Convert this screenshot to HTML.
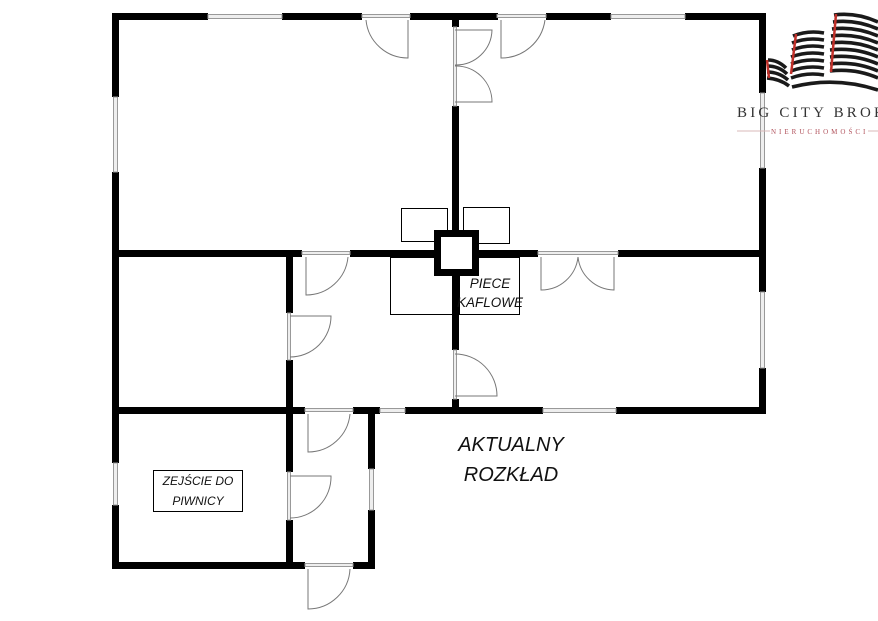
<!DOCTYPE html>
<html><head><meta charset="utf-8"><style>
html,body{margin:0;padding:0;background:#fff;}
svg{display:block;}
</style></head><body>
<svg width="878" height="621" viewBox="0 0 878 621" xmlns="http://www.w3.org/2000/svg">
<g fill="#000">
<rect x="112" y="13" width="96" height="7"/>
<rect x="282" y="13" width="80" height="7"/>
<rect x="410" y="13" width="88" height="7"/>
<rect x="546" y="13" width="65" height="7"/>
<rect x="685" y="13" width="81" height="7"/>
<rect x="759" y="13" width="7" height="80"/>
<rect x="759" y="168" width="7" height="124"/>
<rect x="759" y="368" width="7" height="45"/>
<rect x="112" y="13" width="7" height="84"/>
<rect x="112" y="172" width="7" height="291"/>
<rect x="112" y="505" width="7" height="64"/>
<rect x="112" y="562" width="193" height="7"/>
<rect x="452" y="13" width="7" height="14"/>
<rect x="452" y="106" width="7" height="124"/>
<rect x="452" y="276" width="7" height="74"/>
<rect x="452" y="399" width="7" height="12"/>
<rect x="112" y="250" width="190" height="7"/>
<rect x="350" y="250" width="84" height="7"/>
<rect x="479" y="250" width="59" height="7"/>
<rect x="618" y="250" width="148" height="7"/>
<rect x="286" y="250" width="7" height="63"/>
<rect x="286" y="360" width="7" height="112"/>
<rect x="286" y="520" width="7" height="49"/>
<rect x="112" y="407" width="193" height="7"/>
<rect x="353" y="407" width="27" height="7"/>
<rect x="405" y="407" width="138" height="7"/>
<rect x="616" y="407" width="150" height="7"/>
<rect x="368" y="407" width="7" height="62"/>
<rect x="368" y="510" width="7" height="59"/>
<rect x="353" y="562" width="22" height="7"/>
</g>
<g fill="#eee" stroke="#999" stroke-width="1">
<rect x="208" y="14.5" width="74" height="4"/>
<rect x="611" y="14.5" width="74" height="4"/>
<rect x="113.5" y="97" width="4" height="75"/>
<rect x="760.5" y="93" width="4" height="75"/>
<rect x="760.5" y="292" width="4" height="76"/>
<rect x="113.5" y="463" width="4" height="42"/>
<rect x="380" y="408.5" width="25" height="4"/>
<rect x="543" y="408.5" width="73" height="4"/>
<rect x="369.5" y="469" width="4" height="41"/>
<rect x="362" y="14.5" width="48" height="3"/>
<rect x="497" y="14.5" width="49" height="3"/>
<rect x="453.5" y="27" width="3" height="79"/>
<rect x="302" y="251.5" width="48" height="3"/>
<rect x="538" y="251.5" width="80" height="3"/>
<rect x="287.5" y="313" width="3" height="47"/>
<rect x="287.5" y="472" width="3" height="48"/>
<rect x="453.5" y="350" width="3" height="49"/>
<rect x="305" y="408.5" width="48" height="3"/>
<rect x="305" y="563.5" width="48" height="3"/>
</g>
<g fill="none" stroke="#777" stroke-width="1">
<path d="M408 20 V58 A42 42 0 0 1 366 20"/>
<path d="M455 30 H492 A36 36 0 0 1 455 65"/>
<path d="M455 102 H492 A36 36 0 0 0 455 66"/>
<path d="M501 20 V58 A44 44 0 0 0 545 20"/>
<path d="M306 257 V295 A42 42 0 0 0 348 257"/>
<path d="M541 257 V290 A37 37 0 0 0 578 257"/>
<path d="M614 257 V290 A37 37 0 0 1 578 257"/>
<path d="M290 316 H331 A41 41 0 0 1 290 357"/>
<path d="M290 476 H331 A41 41 0 0 1 290 518"/>
<path d="M455 396 H497 A42 42 0 0 0 455 354"/>
<path d="M308 414 V452 A42 42 0 0 0 350 414"/>
<path d="M308 569 V609 A42 42 0 0 0 350 569"/>
</g>
<g fill="none" stroke="#000" stroke-width="1">
<rect x="401.5" y="208.5" width="46" height="33"/>
<rect x="463.5" y="207.5" width="46" height="36"/>
<rect x="390.5" y="257.5" width="62" height="57"/>
<rect x="459.5" y="257.5" width="60" height="57"/>
<rect x="153.5" y="470.5" width="89" height="41"/>
</g>
<rect x="437.5" y="233.5" width="38" height="39" fill="#fff" stroke="#000" stroke-width="7"/>
<g font-family="Liberation Sans, sans-serif" font-style="italic" fill="#111" text-anchor="middle">
<text x="490" y="288" font-size="13.5">PIECE</text>
<text x="490" y="307" font-size="13.5">KAFLOWE</text>
<text x="198" y="485" font-size="12">ZEJŚCIE DO</text>
<text x="198" y="505" font-size="12">PIWNICY</text>
<text x="511" y="451" font-size="20">AKTUALNY</text>
<text x="511" y="481" font-size="20">ROZKŁAD</text>
</g>
<!-- logo -->
<g fill="none" stroke-width="3.6" stroke="#1a1a1a">
<path d="M768 60 Q778 60 786 68"/>
<path d="M767 66 Q779 66 787 74"/>
<path d="M767 72 Q779 72 788 80"/>
<path d="M767 78 Q780 79 789 86"/>
<path d="M793 36 Q808 30 824 33"/>
<path d="M792 43 Q807 37 824 40"/>
<path d="M792 50 Q807 44 824 47"/>
<path d="M791 57 Q807 51 824 54"/>
<path d="M791 64 Q807 58 824 61"/>
<path d="M791 71 Q807 65 824 68"/>
<path d="M791 78 Q807 72 824 75"/>
<path d="M792 87 Q835 76 878 90"/>
<path d="M834 15 Q856 12 878 22"/>
<path d="M833 22 Q855 19 878 29"/>
<path d="M832 29 Q855 26 878 36"/>
<path d="M831 36 Q855 33 878 43"/>
<path d="M831 43 Q855 40 878 50"/>
<path d="M830 50 Q855 47 878 57"/>
<path d="M830 57 Q855 54 878 64"/>
<path d="M830 64 Q855 61 878 71"/>
<path d="M830 71 Q855 68 878 78"/>
</g>
<g stroke="#c0302a" stroke-width="2.5">
<line x1="767" y1="60" x2="769" y2="78"/>
<line x1="796" y1="34" x2="791" y2="74"/>
<line x1="836" y1="14" x2="831" y2="72"/>
</g>
<text x="737" y="117" font-family="Liberation Serif, serif" font-size="15" letter-spacing="3.2" fill="#333">BIG CITY BROK</text>
<line x1="737" y1="131" x2="770" y2="131" stroke="#d9b8b8" stroke-width="1"/>
<line x1="868" y1="131" x2="878" y2="131" stroke="#d9b8b8" stroke-width="1"/>
<text x="771" y="134" font-family="Liberation Serif, serif" font-size="7" letter-spacing="3" fill="#b0505a">NIERUCHOMOŚCI</text>
</svg>
</body></html>
